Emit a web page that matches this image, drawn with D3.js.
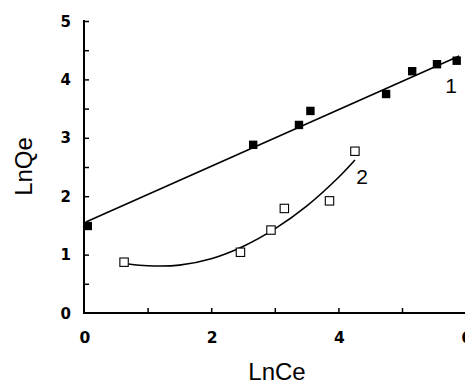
<!DOCTYPE html>
<html><head><meta charset="utf-8">
<script src="https://cdn.jsdelivr.net/npm/d3@7"></script>
<style>body{margin:0;background:#fff}svg{display:block}</style>
</head><body>
<svg id="c" width="465" height="383"></svg>
<script>
// Series 1: filled squares (LnCe, LnQe)
const series1X = [0.06, 2.66, 3.38, 3.56, 4.75, 5.16, 5.55, 5.86];
const series1Y = [1.49, 2.88, 3.22, 3.46, 3.75, 4.14, 4.26, 4.32];
// Series 2: open squares
const series2X = [0.63, 2.46, 2.94, 3.15, 3.86, 4.26];
const series2Y = [0.87, 1.04, 1.42, 1.79, 1.92, 2.77];
// Fitted line 1 (endpoints)
const fit1X = [0.03, 5.9];
const fit1Y = [1.56, 4.40];
// Fitted curve 2
const fit2X = [0.70, 1.00, 1.50, 2.00, 2.50, 3.00, 3.50, 4.00, 4.26];
const fit2Y = [0.84, 0.81, 0.82, 0.93, 1.14, 1.44, 1.83, 2.32, 2.62];
const xTickLabels = [0, 2, 4, 6];
const yTickLabels = [0, 1, 2, 3, 4, 5];
const xMinorTicks = [1, 2, 3, 4, 5];
const yMinorTicks = [0.5, 1, 1.5, 2, 2.5, 3, 3.5, 4, 4.5, 5];

const svg = d3.select("#c");
const x = d3.scaleLinear().domain([0, 6]).range([84, 465.6]);
const y = d3.scaleLinear().domain([0, 5]).range([313, 21]);

// x axis
const xAxis = d3.axisBottom(x).tickValues(xMinorTicks).tickSize(-5).tickFormat("");
const gx = svg.append("g").attr("transform", "translate(0,313)").call(xAxis);
gx.select(".domain").remove();
gx.selectAll(".tick line").attr("stroke", "#000").attr("stroke-width", 1.5);
svg.append("line").attr("x1", x(0) - 1).attr("x2", 465).attr("y1", 313).attr("y2", 313)
  .attr("stroke", "#000").attr("stroke-width", 2);

// y axis
const yAxis = d3.axisLeft(y).tickValues(yMinorTicks).tickSize(-5).tickFormat("");
const gy = svg.append("g").attr("transform", "translate(84,0)").call(yAxis);
gy.select(".domain").remove();
gy.selectAll(".tick line").attr("stroke", "#000").attr("stroke-width", 1.5);
svg.append("line").attr("x1", 84).attr("x2", 84).attr("y1", y(5) - 1).attr("y2", 314)
  .attr("stroke", "#000").attr("stroke-width", 2);

// tick labels
svg.append("g").selectAll("text").data(xTickLabels).join("text")
  .attr("x", d => x(d) + 1).attr("y", 343)
  .attr("text-anchor", "middle")
  .style("font-family", "DejaVu Sans").style("font-weight", "bold").style("font-size", "15.5px")
  .text(d => d);
svg.append("g").selectAll("text").data(yTickLabels).join("text")
  .attr("x", 71).attr("y", d => y(d) + 5.6)
  .attr("text-anchor", "end")
  .style("font-family", "DejaVu Sans").style("font-weight", "bold").style("font-size", "15px")
  .text(d => d);

// axis titles
svg.append("text").attr("x", 277).attr("y", 380).attr("text-anchor", "middle")
  .style("font-family", "Liberation Sans, Arial").style("font-size", "24px").text("LnCe");
svg.append("text").attr("transform", "translate(32,166.5) rotate(-90)").attr("text-anchor", "middle")
  .style("font-family", "Liberation Sans, Arial").style("font-size", "24px").text("LnQe");

// fit line 1
const line = d3.line().x(d => x(d[0])).y(d => y(d[1]));
svg.append("path").datum(fit1X.map((v, i) => [v, fit1Y[i]]))
  .attr("d", line).attr("fill", "none").attr("stroke", "#000").attr("stroke-width", 1.6);
// fit curve 2
svg.append("path").datum(fit2X.map((v, i) => [v, fit2Y[i]]))
  .attr("d", line.curve(d3.curveCatmullRom)).attr("fill", "none").attr("stroke", "#000").attr("stroke-width", 1.6);

// markers series 1
svg.append("g").selectAll("rect").data(series1X.map((v, i) => [v, series1Y[i]])).join("rect")
  .attr("x", d => x(d[0]) - 4.2).attr("y", d => y(d[1]) - 4.2)
  .attr("width", 8.4).attr("height", 8.4).attr("fill", "#000");
// markers series 2
svg.append("g").selectAll("rect").data(series2X.map((v, i) => [v, series2Y[i]])).join("rect")
  .attr("x", d => x(d[0]) - 4.2).attr("y", d => y(d[1]) - 4.2)
  .attr("width", 8.4).attr("height", 8.4).attr("fill", "#fff").attr("stroke", "#000").attr("stroke-width", 1.1);

// series labels
svg.append("text").attr("x", 451).attr("y", 93).attr("text-anchor", "middle")
  .style("font-family", "Liberation Sans, Arial").style("font-size", "21px").text("1");
svg.append("text").attr("x", 362).attr("y", 184).attr("text-anchor", "middle")
  .style("font-family", "Liberation Sans, Arial").style("font-size", "21px").text("2");
</script>
</body></html>
